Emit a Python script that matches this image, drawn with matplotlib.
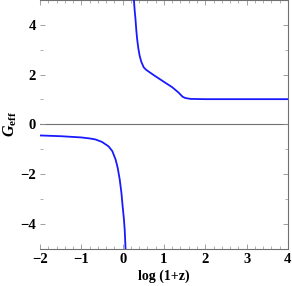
import numpy as np
import matplotlib
matplotlib.use("Agg")
import matplotlib.pyplot as plt
from matplotlib.ticker import MultipleLocator

# Curve (two branches around the pole near log(1+z) ~ 0.1)
lower_x = [-2.0, -1.5, -1.0, -0.8, -0.66, -0.5, -0.34, -0.25, -0.17, -0.12,
           -0.07, -0.03, 0.0, 0.03, 0.05, 0.07]
lower_y = [-0.45, -0.48, -0.53, -0.57, -0.61, -0.71, -0.89, -1.08, -1.42, -1.75,
           -2.23, -2.75, -3.3, -3.8, -4.25, -5.0]

upper_x = [0.27, 0.29, 0.31, 0.33, 0.35, 0.38, 0.41, 0.45, 0.51, 0.57, 0.63,
           0.75, 0.96, 1.2, 1.35, 1.45, 1.51, 1.57, 1.65, 2.0, 3.0, 4.0]
upper_y = [5.06, 4.6, 4.25, 3.8, 3.44, 3.05, 2.77, 2.52, 2.29, 2.19, 2.12,
           1.98, 1.75, 1.49, 1.28, 1.11, 1.06, 1.04, 1.02, 1.01, 1.01, 1.01]

x_ticks = [-2, -1, 0, 1, 2, 3, 4]
y_ticks = [-4, -2, 0, 2, 4]

plt.rcParams['font.family'] = ['Liberation Serif', 'DejaVu Serif']
plt.rcParams['font.weight'] = 'bold'
plt.rcParams['axes.unicode_minus'] = True
plt.rcParams['mathtext.fontset'] = 'custom'
plt.rcParams['mathtext.it'] = 'Liberation Serif:italic:bold'
plt.rcParams['mathtext.rm'] = 'Liberation Serif:bold'

fig = plt.figure(figsize=(2.92, 2.86), dpi=100)
ax = fig.add_axes([0.137, 0.131, 0.849, 0.869])

ax.axhline(0, color='#707070', lw=0.8, zorder=1)
ax.plot(lower_x, lower_y, color='#1a1aff', lw=1.3, zorder=3)
ax.plot(upper_x, upper_y, color='#1a1aff', lw=1.3, zorder=3)

ax.set_xlim(-2, 4)
ax.set_ylim(-5, 5)
ax.set_xticks(x_ticks)
ax.set_yticks(y_ticks)
ax.xaxis.set_minor_locator(MultipleLocator(0.2))
ax.yaxis.set_minor_locator(MultipleLocator(1))

for s in ['bottom', 'right', 'top']:
    ax.spines[s].set_color('#707070')
    ax.spines[s].set_linewidth(0.8)
ax.spines['left'].set_visible(False)

ax.tick_params(which='both', direction='in', top=True, right=True, color='#909090',
               labelsize=10.5, pad=3)
ax.tick_params(which='major', length=3.5, width=0.6)
ax.tick_params(which='minor', length=2, width=0.5)
for lab in ax.get_xticklabels() + ax.get_yticklabels():
    lab.set_fontweight('bold')

ax.set_xlabel('log (1+z)', fontsize=10, fontweight='bold', labelpad=3)
ax.set_ylabel(r'$G_{\mathrm{eff}}$', fontsize=11.5, labelpad=1)

fig.savefig('out.png', dpi=100)
